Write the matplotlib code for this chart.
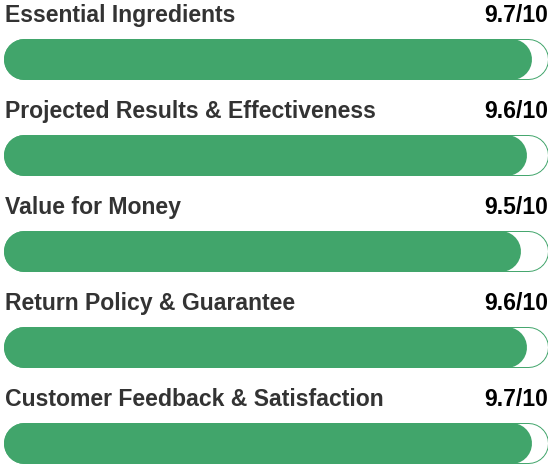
import matplotlib.pyplot as plt

# Rating categories and scores (out of 10)
labels = ['Essential Ingredients', 'Projected Results & Effectiveness',
          'Value for Money', 'Return Policy & Guarantee',
          'Customer Feedback & Satisfaction']
scores = [9.7, 9.6, 9.5, 9.6, 9.7]
max_score = 10

green = '#41a56b'
W, H = 551, 472
fig = plt.figure(figsize=(W / 100, H / 100), dpi=100)
# axes spans the bar track horizontally (3px .. 548px), pixels vertically
x0, track_w = 3, 545
ax = fig.add_axes([x0 / W, 0, track_w / W, 1])
ax.set_xlim(0, max_score)
ax.set_ylim(H, 0)
ax.axis('off')

bar_h = 41                      # px
lw = bar_h * 72 / 100           # line width in points
r = (bar_h / 2) / (track_w / max_score)  # cap radius in data units

for i, (lab, s) in enumerate(zip(labels, scores)):
    yb = 59 + 96 * i
    # track: green outline, white inside
    ax.plot([r, max_score - r], [yb, yb], color=green, lw=lw,
            solid_capstyle='round')
    ax.plot([r, max_score - r], [yb, yb], color='white', lw=lw - 1.4,
            solid_capstyle='round')
    # filled part
    ax.plot([r, s - r], [yb, yb], color=green, lw=lw,
            solid_capstyle='round')
    yt = 22 + 96 * i
    ax.text(0.035, yt, lab, fontsize=16.55, fontweight='bold',
            family='Liberation Sans', color='#333333', va='baseline', ha='left')
    ax.text(max_score, yt, f'{s}/{max_score}', fontsize=16.55, fontweight='bold',
            family='Liberation Sans', color='black', va='baseline', ha='right')

fig.savefig('out.png', dpi=100)
